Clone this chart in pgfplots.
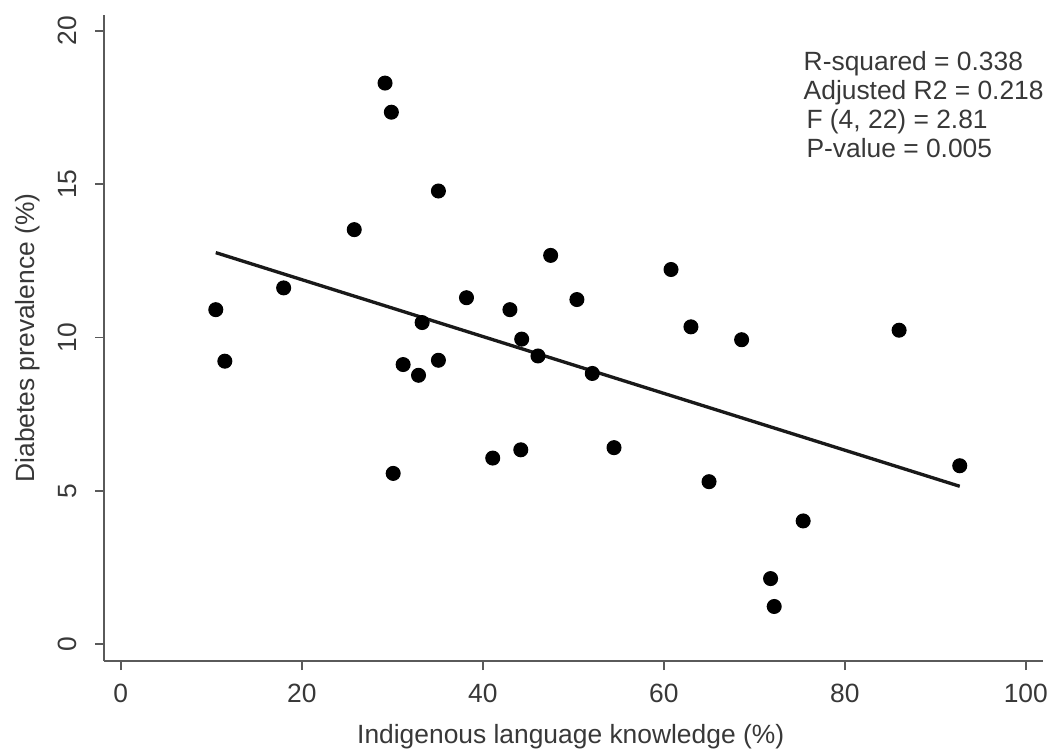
\documentclass[border=0pt]{standalone}
\usepackage{fontspec}
\setmainfont{Liberation Sans}
\usepackage{pgfplots}
\pgfplotsset{compat=1.18}
\usetikzlibrary{calc}
\definecolor{axgray}{HTML}{5A5A5A}
\definecolor{txtgray}{HTML}{383838}
\begin{document}
\begin{tikzpicture}[font=\fontsize{9.5}{10.4}\selectfont]
\begin{axis}[name=ax, scale only axis, width=338pt, height=232.56pt,
  xmin=-1.85, xmax=101.9, ymin=-0.55, ymax=20.52,
  axis lines=left, axis line style={-, draw=axgray, line width=0.8pt},
  xtick={0,20,...,100}, ytick={0,5,...,20},
  tick align=outside, major tick length=3.24pt,
  tick style={draw=axgray, line width=0.6pt},
  /pgf/number format/assume math mode=true,
  ticklabel style={text=txtgray, font=\fontsize{9.5}{10}\selectfont},
  xticklabel style={inner sep=0pt, yshift=-5pt},
  yticklabel style={rotate=90, anchor=south, inner sep=6.5pt},
  xlabel={Indigenous language knowledge (\%)},
  ylabel={Diabetes prevalence (\%)},
  xlabel style={at={(axis description cs:0.497,-0.1176)}, anchor=center, text=txtgray},
  ylabel style={at={(axis description cs:-0.081,0.5)}, anchor=center, text=txtgray},
  clip=false]
\addplot[only marks, mark=*, mark size=2.5pt, mark options={fill=black, draw=black}] coordinates {
 (29.2,18.30) (29.9,17.35) (35.1,14.78) (25.8,13.52) (18.0,11.62) (10.5,10.91)
 (38.2,11.30) (43.0,10.91) (33.3,10.49) (44.3,9.95) (11.5,9.23) (31.2,9.12)
 (35.1,9.26) (32.9,8.77) (30.1,5.57) (41.1,6.07) (44.2,6.34) (54.5,6.41)
 (65.0,5.30) (75.4,4.02) (71.8,2.14) (72.2,1.23) (92.7,5.82) (47.5,12.68)
 (60.8,12.22) (50.4,11.24) (46.1,9.40) (63.0,10.35) (68.6,9.93) (86.0,10.24)
 (52.1,8.83)
};
\addplot[draw=black!90, line width=1.2pt] coordinates {(10.5,12.77) (92.7,5.15)};
\node[anchor=north west, align=left, inner sep=0pt, text=txtgray,
      font=\fontsize{9.5}{10.4}\selectfont] at (axis cs:75.4,19.35)
  {R-squared = 0.338\\Adjusted R2 = 0.218\\\hspace{1pt}F (4, 22) = 2.81\\\hspace{1pt}P-value = 0.005};
\end{axis}
\pgfresetboundingbox
\path ($(ax.south west)+(-37.44pt,-32.04pt)$) rectangle ($(ax.north east)+(3.96pt,5.4pt)$);
\end{tikzpicture}
\end{document}
